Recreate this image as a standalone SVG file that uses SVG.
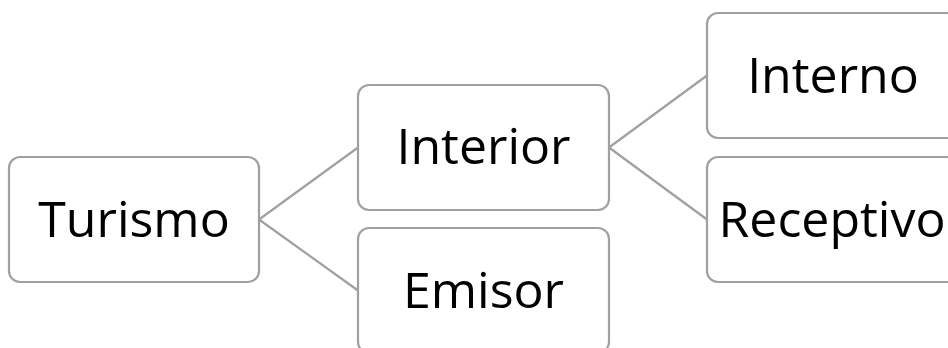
<svg xmlns="http://www.w3.org/2000/svg" width="948" height="348" viewBox="0 0 948 348">
<style>
.box{fill:#ffffff;stroke:#a0a0a0;stroke-width:2.2}
.lbl{font-family:"Open Sans","Noto Sans",sans-serif;font-size:50px;fill:#000000;text-anchor:middle}
.conn{stroke:#a0a0a0;stroke-width:2.2;fill:none}
</style>
<rect width="948" height="348" fill="#ffffff"/>
<g id="connectors">
<line class="conn" x1="259" y1="219.5" x2="358" y2="147.5"/>
<line class="conn" x1="259" y1="219.5" x2="358" y2="290.5"/>
<line class="conn" x1="609" y1="147.5" x2="707" y2="75.5"/>
<line class="conn" x1="609" y1="147.5" x2="707" y2="219.5"/>
</g>
<g id="turismo">
<rect class="box" x="9" y="157" width="250" height="125" rx="11"/>
<text class="lbl" x="134" y="237">Turismo</text>
</g>
<g id="interior">
<rect class="box" x="358" y="85" width="251" height="125" rx="11"/>
<text class="lbl" x="483.5" y="164">Interior</text>
</g>
<g id="emisor">
<rect class="box" x="358" y="228" width="251" height="125" rx="11"/>
<text class="lbl" x="483.5" y="308">Emisor</text>
</g>
<g id="interno">
<rect class="box" x="707" y="13" width="251" height="125" rx="11"/>
<text class="lbl" x="833" y="93">Interno</text>
</g>
<g id="receptivo">
<rect class="box" x="707" y="157" width="251" height="125" rx="11"/>
<text class="lbl" x="832" y="237">Receptivo</text>
</g>
</svg>
